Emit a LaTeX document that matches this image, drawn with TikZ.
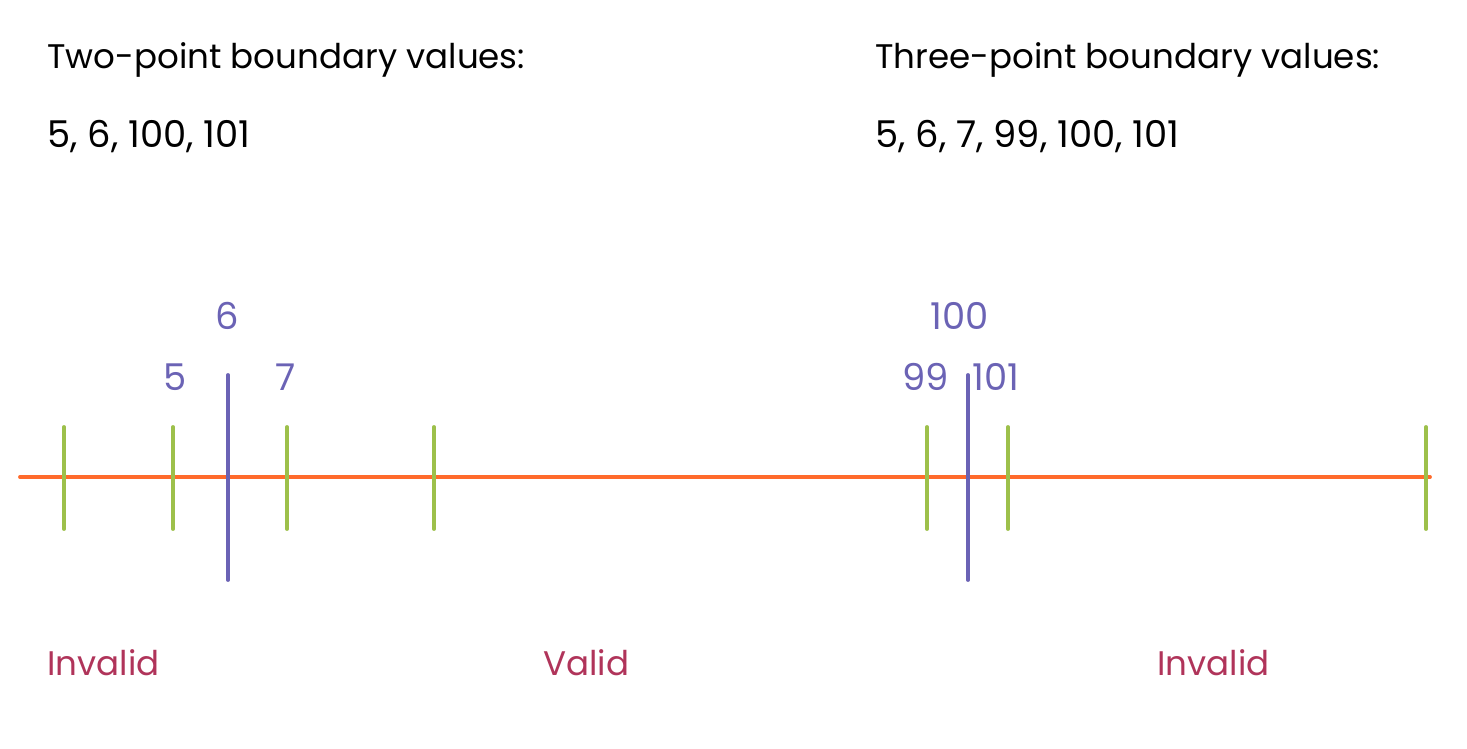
\documentclass[tikz,border=0pt]{standalone}
\usepackage{fontspec}
\setmainfont{Poppins}
\definecolor{lineorange}{HTML}{FF6A2B}
\definecolor{tickgreen}{HTML}{9DC04B}
\definecolor{markpurple}{HTML}{6B63B5}
\definecolor{zonered}{HTML}{B0345A}
\tikzset{
  txt/.style={inner sep=0pt,anchor=base west,font=\fontsize{19.4}{23}\selectfont},
  digits/.style={txt,font=\fontsize{21}{25}\selectfont},
  num/.style={digits,text=markpurple},
  zone/.style={txt,text=zonered},
  gtick/.style={tickgreen,line width=2.2pt},
  ptick/.style={markpurple,line width=2.2pt}
}
\begin{document}
\begin{tikzpicture}[x=0.02cm,y=-0.02cm,line cap=round]
  \useasboundingbox (0,0) rectangle (1467,748);
  % headings
  \node[txt] (twohead) at (47,68) {Two-point boundary values:};
  \node[digits] (twovals) at (47,147) {5, 6, 100, 101};
  \node[txt] (threehead) at (875,68) {Three-point boundary values:};
  \node[digits] (threevals) at (875,147) {5, 6, 7, 99, 100, 101};
  % number line
  \draw[lineorange,line width=2.2pt] (20,477) -- (1430,477);
  \foreach \x in {64,173,287,434,927,1008,1426}
    \draw[gtick] (\x,427) -- (\x,529);
  \draw[ptick] (228,375) -- (228,580);
  \draw[ptick] (968,375) -- (968,580);
  % labels
  \node[num] (lblsix) at (215,329) {6};
  \node[num] (lblfive) at (163,390) {5};
  \node[num] (lblseven) at (275,390) {7};
  \node[num] (lblhundred) at (930,329) {100};
  \node[num] (lblninetynine) at (902,390) {99};
  \node[num] (lblhundredone) at (972,390) {101};
  \node[zone] (leftinvalid) at (47,675) {Invalid};
  \node[zone] (valid) at (543,675) {Valid};
  \node[zone] (rightinvalid) at (1157,675) {Invalid};
\end{tikzpicture}
\end{document}
